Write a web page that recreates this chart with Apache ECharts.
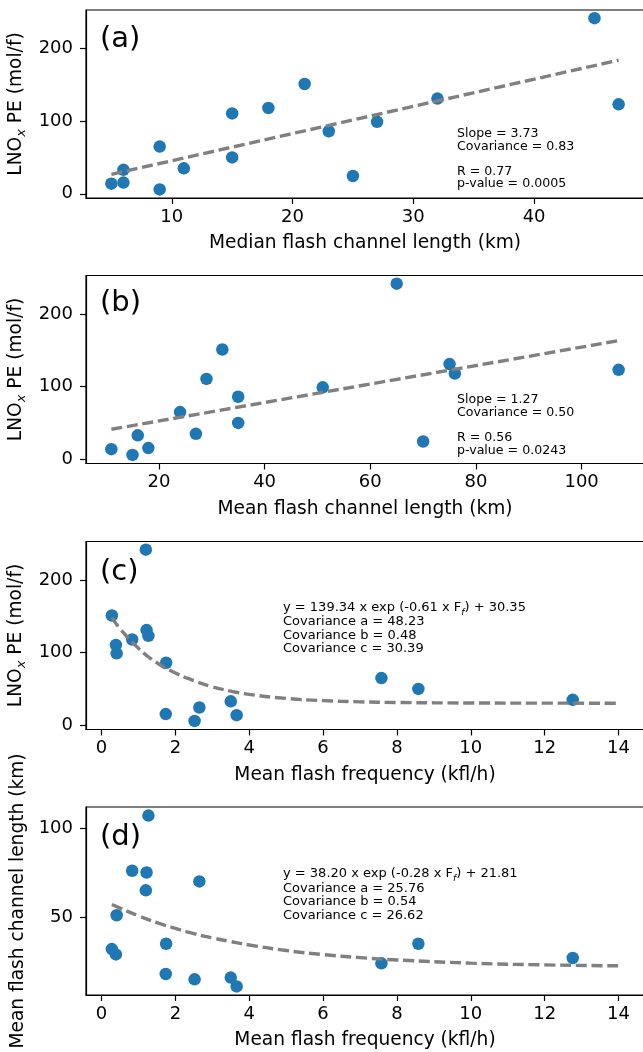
<!DOCTYPE html>
<html>
<head>
<meta charset="utf-8">
<script src="https://cdn.jsdelivr.net/npm/echarts@6/dist/echarts.min.js"></script>
<style>
html, body { margin: 0; padding: 0; background: #fff; }
#chart { width: 643px; height: 1052px; }
</style>
</head>
<body>
<div id="chart"></div>
<script>
// Data (one entry per storm case)
var lnox       = [6, 14, 15.5, 24.5, 33, 35, 50, 65, 86, 99, 110.5, 118, 123, 131, 151, 241.5];
var medianLen  = [9, 5, 6, 25, 6, 11, 15, 9, 23, 27, 15, 18, 47, 32, 21, 45];
var meanLen    = [15, 11, 18, 70, 16, 27, 35, 24, 35, 51, 29, 76, 107, 75, 32, 65];
var flashFreq  = [2.52, 3.66, 1.74, 2.65, 3.50, 12.76, 8.58, 7.58, 1.75, 0.41, 0.39, 0.83, 1.27, 1.22, 0.28, 1.20];

// Fitted lines as drawn
var fitAx = [5, 47];
var fitAy = [26.8, 183.8];
var fitBx = [11, 107];
var fitBy = [41.3, 163.2];
var fitCDx = [0.28, 0.5, 1, 1.5, 2, 2.5, 3, 3.5, 4, 5, 6, 7, 8, 10, 12, 14];
var fitCy  = [148, 133, 106, 86, 72, 61.5, 53, 47, 42.5, 37, 34, 32.3, 31.4, 30.7, 30.5, 30.4];
var fitDy  = [57, 55, 50.7, 46.9, 43.6, 40.7, 38.3, 36.2, 34.3, 31.2, 28.9, 27.2, 25.9, 24.1, 23.1, 22.6];

// Tick labels
var ticksXa = [10, 20, 30, 40];
var ticksXb = [20, 40, 60, 80, 100];
var ticksXcd = [0, 2, 4, 6, 8, 10, 12, 14];
var ticksYabc = [0, 100, 200];
var ticksYd = [50, 100];

var FONT = 'DejaVu Sans';
var BLUE = '#1f77b4';

function pairs(xs, ys) {
    var out = [];
    for (var i = 0; i < xs.length; i++) out.push([xs[i], ys[i]]);
    return out;
}

function makeGrid(top) {
    return {
        left: 86, right: -1, top: top, height: 188,
        show: true, borderColor: '#000', borderWidth: 1.2,
        containLabel: false, outerBoundsMode: 'none'
    };
}

function makeXAxis(gi, min, max, ticks, name) {
    return {
        type: 'value', gridIndex: gi, min: min, max: max,
        name: name, nameLocation: 'middle', nameGap: 36,
        nameTextStyle: { fontSize: 18.6, color: '#000', fontFamily: FONT },
        axisLine: { show: true, onZero: false, lineStyle: { color: '#000', width: 1.2 } },
        axisTick: { show: true, length: 6, customValues: ticks, lineStyle: { color: '#000', width: 1.2 } },
        axisLabel: { customValues: ticks, fontSize: 18, color: '#000', margin: 10, fontFamily: FONT },
        splitLine: { show: false }
    };
}

function makeYAxis(gi, min, max, ticks, name, rich) {
    return {
        type: 'value', gridIndex: gi, min: min, max: max,
        name: name, nameLocation: 'middle', nameGap: 50,
        nameTextStyle: { fontSize: 18.6, color: '#000', fontFamily: FONT, rich: rich },
        axisLine: { show: true, onZero: false, lineStyle: { color: '#000', width: 1.2 } },
        axisTick: { show: true, length: 6, customValues: ticks, lineStyle: { color: '#000', width: 1.2 } },
        axisLabel: { customValues: ticks, fontSize: 18, color: '#000', margin: 13, fontFamily: FONT },
        splitLine: { show: false }
    };
}

var lnoxRich = {
    n: { fontSize: 18.6, fontFamily: FONT, color: '#000' },
    s: { fontSize: 13, fontFamily: FONT, fontStyle: 'italic', color: '#000', verticalAlign: 'bottom', lineHeight: 24 }
};
var lnoxName = '{n|LNO}{s|x}{n| PE (mol/f)}';

function scatter(gi, xs, ys) {
    return {
        type: 'scatter', xAxisIndex: gi, yAxisIndex: gi,
        data: pairs(xs, ys), symbolSize: 12.5, z: 2,
        itemStyle: { color: BLUE, opacity: 1 }
    };
}

function fitLine(gi, xs, ys, smooth) {
    return {
        type: 'line', xAxisIndex: gi, yAxisIndex: gi,
        data: pairs(xs, ys), smooth: smooth, showSymbol: false, symbol: 'none', z: 3,
        lineStyle: { color: '#808080', width: 3.4, type: [11, 4.7] }
    };
}

function txt(x, y, text, size, rich) {
    return {
        type: 'text', x: x, y: y, z: 100,
        style: { text: text, fontSize: size, fontFamily: FONT, fill: '#000', verticalAlign: 'middle', rich: rich }
    };
}

var subRich = {
    m: { fontSize: 13, fontFamily: FONT, fill: '#000', color: '#000' },
    f: { fontSize: 9, fontFamily: FONT, fontStyle: 'italic', fill: '#000', color: '#000', verticalAlign: 'bottom', lineHeight: 18 }
};

var chart = echarts.init(document.getElementById('chart'), null, { renderer: 'canvas' });

chart.setOption({
    animation: false,
    backgroundColor: '#fff',
    textStyle: { fontFamily: FONT },
    grid: [makeGrid(10), makeGrid(275.5), makeGrid(541.5), makeGrid(807)],
    xAxis: [
        makeXAxis(0, 2.9, 49.1, ticksXa, 'Median flash channel length (km)'),
        makeXAxis(1, 6.2, 111.8, ticksXb, 'Mean flash channel length (km)'),
        makeXAxis(2, -0.42, 14.69, ticksXcd, 'Mean flash frequency (kfl/h)'),
        makeXAxis(3, -0.42, 14.69, ticksXcd, 'Mean flash frequency (kfl/h)')
    ],
    yAxis: [
        makeYAxis(0, -5.75, 252.75, ticksYabc, lnoxName, lnoxRich),
        makeYAxis(1, -5.75, 252.75, ticksYabc, lnoxName, lnoxRich),
        makeYAxis(2, -5.75, 252.75, ticksYabc, lnoxName, lnoxRich),
        makeYAxis(3, 6.2, 111.8, ticksYd, 'Mean flash channel length (km)')
    ],
    series: [
        scatter(0, medianLen, lnox),
        fitLine(0, fitAx, fitAy, false),
        scatter(1, meanLen, lnox),
        fitLine(1, fitBx, fitBy, false),
        scatter(2, flashFreq, lnox),
        fitLine(2, fitCDx, fitCy, true),
        scatter(3, flashFreq, meanLen),
        fitLine(3, fitCDx, fitDy, true)
    ],
    graphic: [
        txt(100, 39, '(a)', 29),
        txt(100, 303, '(b)', 29),
        txt(100, 572, '(c)', 29),
        txt(100, 837, '(d)', 29),

        txt(457, 134, 'Slope = 3.73', 12.6),
        txt(457, 147, 'Covariance = 0.83', 12.6),
        txt(457, 171.5, 'R = 0.77', 12.6),
        txt(457, 184, 'p-value = 0.0005', 12.6),

        txt(457, 400, 'Slope = 1.27', 12.6),
        txt(457, 413, 'Covariance = 0.50', 12.6),
        txt(457, 437.5, 'R = 0.56', 12.6),
        txt(457, 451, 'p-value = 0.0243', 12.6),

        txt(283, 608, '{m|y = 139.34 x exp (-0.61 x F}{f|f}{m|) + 30.35}', 13, subRich),
        txt(283, 622, 'Covariance a = 48.23', 13),
        txt(283, 636, 'Covariance b = 0.48', 13),
        txt(283, 649, 'Covariance c = 30.39', 13),

        txt(283, 874, '{m|y = 38.20 x exp (-0.28 x F}{f|f}{m|) + 21.81}', 13, subRich),
        txt(283, 889, 'Covariance a = 25.76', 13),
        txt(283, 902, 'Covariance b = 0.54', 13),
        txt(283, 916, 'Covariance c = 26.62', 13)
    ]
});
</script>
</body>
</html>
